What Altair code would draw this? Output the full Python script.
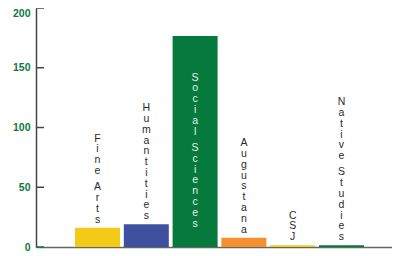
import altair as alt
import pandas as pd

categories = ["Fine Arts", "Humantities", "Social Sciences", "Augustana", "CSJ", "Native Studies"]
values = [16.2, 19.0, 176.6, 7.8, 1.5, 1.5]
colors = ["#F2CB16", "#3F50A1", "#057A3C", "#F5902F", "#F2CB16", "#057A3C"]
y_ticks = [0, 50, 100, 150, 200]
inside_labels = ["Social Sciences"]

PLOT_W = 356
PLOT_H = 239
Y_MAX = 200
LINE = 10.8
SPACE_EXTRA = 5.5

bars = pd.DataFrame({"cat": categories, "value": values, "color": colors})

rows = []
for cat, val in zip(categories, values):
    inside = cat in inside_labels
    off = -20.5 if inside else -5.0
    for ch in reversed(cat):
        if ch == " ":
            off -= SPACE_EXTRA
            continue
        rows.append({"cat": cat, "ch": ch, "anchor": 0 if inside else val,
                     "off": off, "inside": inside})
        off -= LINE
letters = pd.DataFrame(rows)

xscale = alt.Scale(paddingInner=0.078, paddingOuter=0.8, range=[0, 367])
x = alt.X("cat:N", sort=categories, scale=xscale,
          axis=alt.Axis(labels=False, ticks=False, title=None, domainColor="#666",
                        domainWidth=1.5))
yscale = alt.Scale(domain=[0, Y_MAX], nice=False, zero=True)

bar = alt.Chart(bars).mark_bar().encode(
    x=x,
    y=alt.Y("value:Q", scale=yscale,
            axis=alt.Axis(values=y_ticks, title=None, ticks=False, labelPadding=6,
                          labelColor="#0B7A3E", labelFont="Liberation Sans",
                          labelFontWeight="bold", labelFontSize=10.5,
                          labelBaseline={"expr": f"datum.value == {Y_MAX} ? 'top' : 'middle'"},
                          domainColor="#444", domainWidth=1.5, grid=False)),
    color=alt.Color("color:N", scale=None),
)

ticks = alt.Chart(pd.DataFrame({"t": y_ticks})).mark_rule(
    strokeWidth=1.5
).encode(
    x=alt.value(0), x2=alt.value(8),
    y=alt.Y("t:Q", scale=yscale),
    color=alt.condition("datum.t == 0", alt.value("#0B7A3E"), alt.value("#444")),
)

text = alt.Chart(letters).transform_calculate(
    ypos=f"datum.anchor - datum.off * {Y_MAX} / {PLOT_H}"
).mark_text(
    font="Liberation Sans", fontSize=10.5, baseline="alphabetic", align="center"
).encode(
    x=alt.X("cat:N", sort=categories, scale=xscale),
    y=alt.Y("ypos:Q", scale=yscale),
    text="ch:N",
    color=alt.condition("datum.inside", alt.value("#E6EFE9"), alt.value("#2a2a2a")),
)

chart = alt.layer(bar, ticks, text).properties(
    width=PLOT_W, height=PLOT_H,
    padding={"left": 28, "top": 0, "right": 0, "bottom": 8},
    autosize=alt.AutoSizeParams(type="none"),
).configure_view(stroke=None, clip=False)

chart.save("out.html", embed_options={"renderer": "svg", "actions": False})
